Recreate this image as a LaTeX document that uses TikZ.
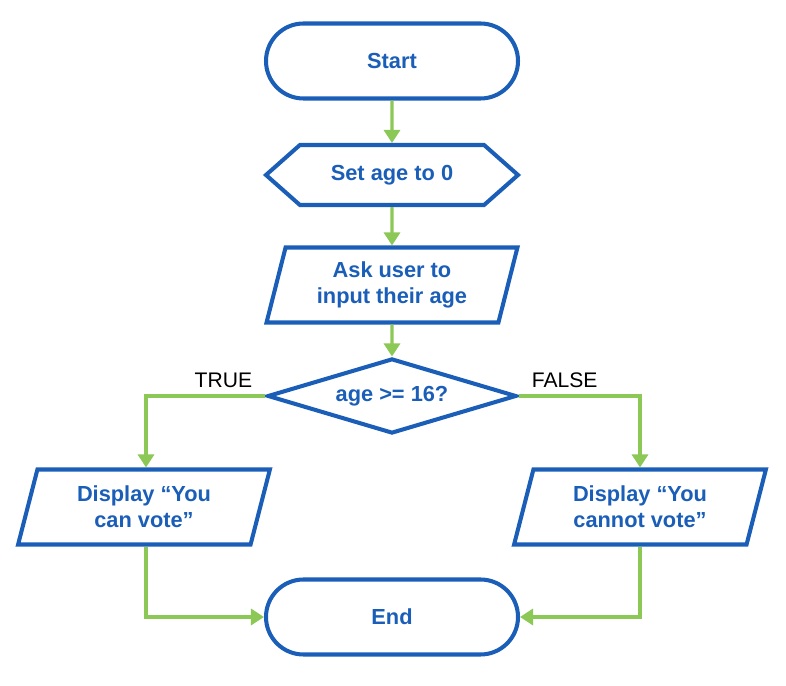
\documentclass[tikz,border=0pt]{standalone}
\usepackage{fontspec}
\setmainfont{Liberation Sans}
\usetikzlibrary{shapes.symbols,shapes.misc,shapes.geometric,arrows.meta,positioning}
\definecolor{boxblue}{RGB}{26,94,184}
\definecolor{flowgreen}{RGB}{140,200,86}
\begin{document}
\begin{tikzpicture}[
        base/.style={draw=boxblue,line width=2.3pt,text=boxblue,font=\fontsize{12.4}{15}\selectfont\bfseries,
            align=center,inner sep=0pt,minimum width=5.04cm,minimum height=1.5cm},
        term/.style={base,rounded rectangle},
        prep/.style={base,signal,signal to=east and west,signal pointer angle=83,minimum height=1.2cm},
        io/.style={base,trapezium,trapezium left angle=74,trapezium right angle=106,trapezium stretches=true},
        decision/.style={base,diamond,aspect=3.32,minimum width=4.98cm},
        flow/.style={draw=flowgreen,line width=1.8pt,-{Triangle[width=0.32cm,length=0.26cm]}},
        lbl/.style={font=\fontsize{12}{14}\selectfont,inner sep=0pt}]
        \useasboundingbox (0,0) rectangle (15.72,-13.72);
        % main column
        \node[term] (start) at (7.84,-1.22) {Start};
        \node[prep] (setage) at (7.84,-3.5) {Set age to 0};
        \node[io] (askage) at (7.84,-5.7) {Ask user to\\input their age};
        \node[decision] (check) at (7.84,-7.92) {age >= 16?};
        % the two outputs
        \node[io] (canvote) at (2.88,-10.14) {Display “You\\can vote”};
        \node[io] (cantvote) at (12.8,-10.14) {Display “You\\cannot vote”};
        \node[term] (stop) at (7.84,-12.34) {End};
        % branch labels
        \node[lbl,above left=0.16cm and 0.26cm of check.west] (truelbl) {TRUE};
        \node[lbl,above right=0.16cm and 0.26cm of check.east] (falselbl) {FALSE};

        \draw[flow] (start) -- (setage);
        \draw[flow] (setage) -- (askage);
        \draw[flow] (askage) -- (check);
        \draw[flow] (check.west) -| ([xshift=0.04cm]canvote.north);
        \draw[flow] (check.east) -| (cantvote.north);
        \draw[flow] ([xshift=0.04cm]canvote.south) |- (stop.west);
        \draw[flow] (cantvote.south) |- (stop.east);
    \end{tikzpicture}
\end{document}
